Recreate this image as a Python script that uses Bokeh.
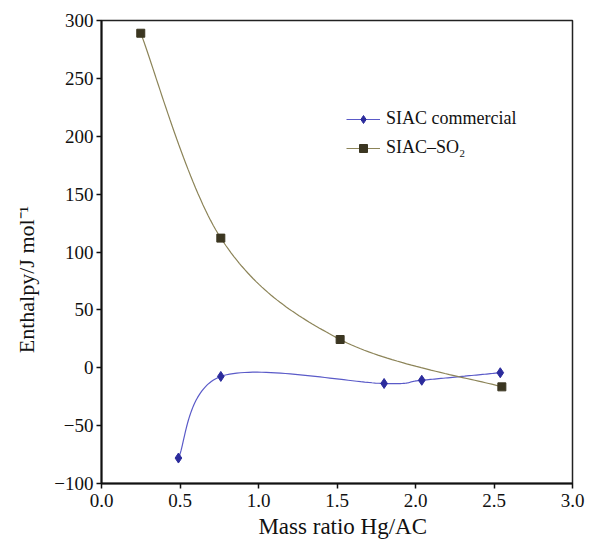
import numpy as np
from bokeh.plotting import figure
from bokeh.models import Range1d, Legend, LegendItem, FixedTicker
from bokeh.embed import file_html
from bokeh.resources import INLINE

# Mass ratio Hg/AC versus enthalpy (J mol^-1)
ratio_commercial = [0.49, 0.76, 1.80, 2.04, 2.54]
enthalpy_commercial = [-78, -7.5, -13.6, -10.8, -4.3]

ratio_so2 = [0.25, 0.76, 1.52, 2.55]
enthalpy_so2 = [289, 112, 24.4, -16.5]

x_ticks = [0.0, 0.5, 1.0, 1.5, 2.0, 2.5, 3.0]
y_ticks = [-100, -50, 0, 50, 100, 150, 200, 250, 300]


def smooth(xs, ys, n=40):
    """Smoothed line through the points: cubic Bezier segments with
    Catmull-Rom style control points (like a spreadsheet 'smoothed line')."""
    pts = np.column_stack([xs, ys]).astype(float)
    m = len(pts)
    out = []
    t = np.linspace(0, 1, n)[:, None]
    for i in range(m - 1):
        p0 = pts[i]
        p1 = pts[i + 1]
        prev = pts[i - 1] if i > 0 else p0
        nxt = pts[i + 2] if i + 2 < m else p1
        c1 = p0 + (p1 - prev) / 6.0
        c2 = p1 - (nxt - p0) / 6.0
        seg = ((1 - t) ** 3) * p0 + 3 * ((1 - t) ** 2) * t * c1 + 3 * (1 - t) * t ** 2 * c2 + t ** 3 * p1
        out.append(seg if i == 0 else seg[1:])
    arr = np.vstack(out)
    return arr[:, 0], arr[:, 1]


serif = "Liberation Serif"
nbsp = "\u00a0"

p = figure(width=604, height=543, output_backend="svg", toolbar_location=None,
           x_range=Range1d(0, 3), y_range=Range1d(-100, 300),
           min_border_left=101, min_border_right=32,
           min_border_top=20, min_border_bottom=60)

p.background_fill_color = "white"
p.border_fill_color = "white"
p.outline_line_color = "#222222"
p.outline_line_width = 1.5
p.xgrid.visible = False
p.ygrid.visible = False

for ax in (p.xaxis[0], p.yaxis[0]):
    ax.axis_line_width = 2
    ax.axis_line_color = "#111111"
    ax.major_tick_line_color = "#111111"
    ax.major_tick_line_width = 1.5
    ax.major_tick_out = 5
    ax.major_tick_in = 0
    ax.minor_tick_line_color = None
    ax.major_label_text_font = serif
    ax.major_label_text_font_size = "19px"
    ax.major_label_text_color = "#111111"
    ax.axis_label_text_font = serif
    ax.axis_label_text_font_style = "normal"
    ax.axis_label_text_color = "#111111"

p.xaxis.ticker = FixedTicker(ticks=x_ticks)
p.yaxis.ticker = FixedTicker(ticks=y_ticks)
p.xaxis.major_label_overrides = {v: f"{v:.1f}" for v in x_ticks}
p.yaxis.major_label_overrides = {v: (f"\u2212{abs(v)}" if v < 0 else str(v)) for v in y_ticks}
p.xaxis.major_label_standoff = 5
p.yaxis.major_label_standoff = 3

# axis titles: padding spaces nudge the x title right and the y title down
p.xaxis.axis_label = nbsp * 3 + "Mass ratio  Hg/AC"
p.xaxis.axis_label_text_font_size = "23px"
p.xaxis.axis_label_standoff = 4
p.yaxis.axis_label = "Enthalpy/J mol\u207b\u00b9" + nbsp * 10
p.yaxis.axis_label_text_font_size = "22px"
p.yaxis.axis_label_standoff = 12

blue_line = "#5a5ac8"
blue_mark = "#2b2b9c"
olive_line = "#8c8458"
olive_mark = "#3b3621"

cx, cy = smooth(ratio_commercial, enthalpy_commercial)
sx, sy = smooth(ratio_so2, enthalpy_so2)

l1 = p.line(cx, cy, line_color=blue_line, line_width=1.2)
m1 = p.scatter(ratio_commercial, enthalpy_commercial, marker="diamond", size=10,
               fill_color=blue_mark, line_color=blue_mark)
l2 = p.line(sx, sy, line_color=olive_line, line_width=1.2)
m2 = p.scatter(ratio_so2, enthalpy_so2, marker="square", size=8,
               fill_color=olive_mark, line_color=olive_mark)

legend = Legend(items=[
    LegendItem(label="SIAC commercial", renderers=[l1, m1]),
    LegendItem(label="SIAC\u2013SO\u2082", renderers=[l2, m2]),
], location=(245, 325))
legend.border_line_color = None
legend.background_fill_alpha = 0
legend.label_text_font = serif
legend.label_text_font_size = "18px"
legend.label_text_color = "#111111"
legend.glyph_width = 34
legend.spacing = 8
legend.label_standoff = 6
p.add_layout(legend)

open("out.html", "w").write(file_html(p, INLINE))
